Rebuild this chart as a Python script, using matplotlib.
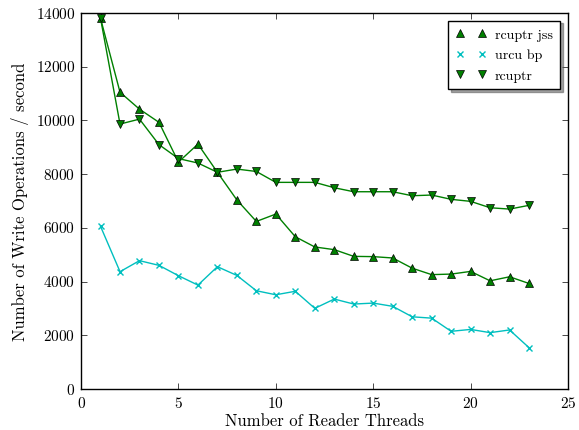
import matplotlib
matplotlib.use("Agg")
import matplotlib.pyplot as plt
from matplotlib.lines import Line2D

threads = list(range(1, 24))
rcuptr_jss = [13800, 11050, 10420, 9930, 8450, 9120, 8070, 7040, 6240, 6515, 5670, 5290,
              5190, 4940, 4930, 4880, 4500, 4260, 4280, 4380, 4030, 4180, 3930]
urcu_bp = [6057, 4370, 4780, 4605, 4220, 3870, 4555, 4230, 3660, 3510, 3640, 3005,
           3350, 3165, 3200, 3080, 2690, 2640, 2150, 2220, 2100, 2200, 1540]
rcuptr = [13800, 9866, 10050, 9100, 8580, 8415, 8070, 8190, 8100, 7695, 7695, 7695,
          7495, 7346, 7346, 7346, 7197, 7223, 7063, 6988, 6750, 6700, 6840]
labels = ['rcuptr jss', 'urcu bp', 'rcuptr']

plt.style.use('classic')
plt.rcParams['font.family'] = ['cmr10', 'DejaVu Serif']
plt.rcParams['axes.formatter.use_mathtext'] = True
plt.rcParams['font.size'] = 11

fig = plt.figure(figsize=(5.79, 4.31), dpi=100, facecolor='white')
ax = fig.add_axes([0.140, 0.095, 0.841, 0.8725])

styles = [
    dict(color='g', marker='^', markersize=6, markerfacecolor='g', markeredgecolor='k', markeredgewidth=0.5),
    dict(color='c', marker='x', markersize=5, markeredgecolor='c', markeredgewidth=1),
    dict(color='g', marker='v', markersize=6, markerfacecolor='g', markeredgecolor='k', markeredgewidth=0.5),
]
for ys, st, lab in zip([rcuptr_jss, urcu_bp, rcuptr], styles, labels):
    ax.plot(threads, ys, linewidth=1, label=lab, **st)

ax.set_xlim(0, 25)
ax.set_ylim(0, 14000)
ax.set_xticks([0, 5, 10, 15, 20, 25])
ax.set_yticks(range(0, 14001, 2000))
ax.set_xlabel('Number of Reader Threads', fontsize=12, labelpad=2)
ax.set_ylabel('Number of Write Operations / second', fontsize=12)
ax.tick_params(labelsize=11)

handles = [Line2D([], [], linestyle='None', **st) for st in styles]
leg = ax.legend(handles, labels, loc='upper right', numpoints=2, shadow=True, fancybox=False,
                fontsize=10, frameon=True, borderaxespad=0.55, handlelength=2.2,
                handletextpad=0.6, labelspacing=0.55, borderpad=0.55)
leg.get_frame().set_edgecolor('k')

fig.savefig('out.png', dpi=100, facecolor='white')
